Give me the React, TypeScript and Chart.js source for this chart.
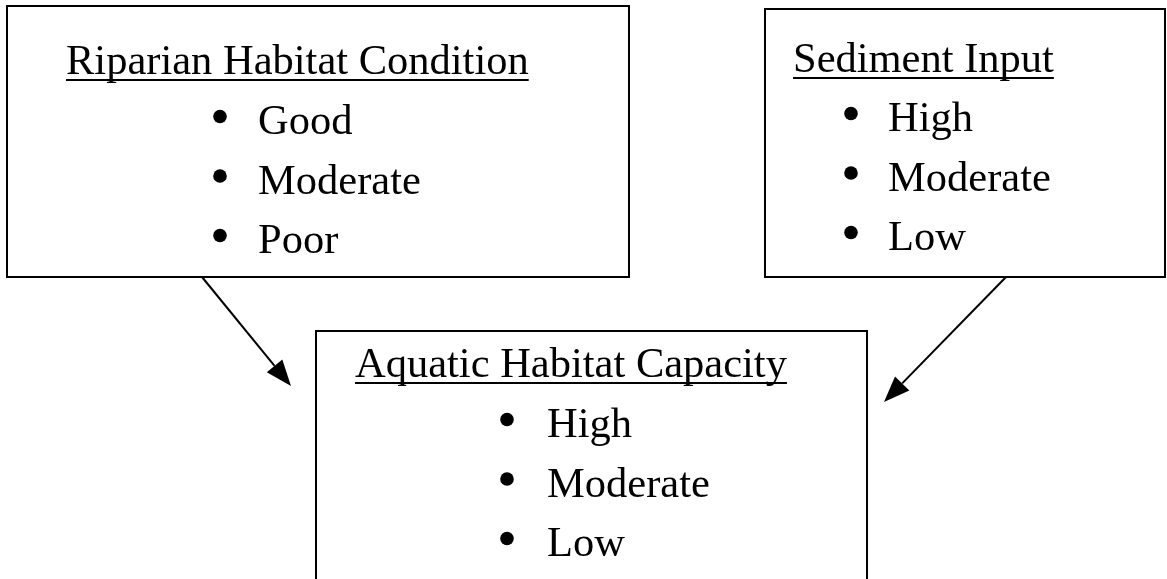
import React, { useEffect, useRef } from "react";
import { Chart, registerables } from "chart.js";

Chart.register(...registerables);

const W = 1167;
const H = 579;

// Text content
const boxTitles = ["Riparian Habitat Condition", "Sediment Input", "Aquatic Habitat Capacity"];
const riparianItems = ["Good", "Moderate", "Poor"];
const sedimentItems = ["High", "Moderate", "Low"];
const aquaticItems = ["High", "Moderate", "Low"];
const boxItems = [riparianItems, sedimentItems, aquaticItems];

// Layout (in scale units = pixels)
const boxLeft = [7, 765, 316];
const boxTop = [6, 9, 331];
const boxRight = [629, 1165, 867];
const boxBottom = [277, 277, 620];
const titleX = [66, 793, 355];
const titleBaseline = [74, 72, 377];
const bulletX = [220, 851, 507];
const itemX = [258, 888, 547];
const itemBaseline0 = [134, 131, 437];
const itemStep = 59.5;

// Arrows
const arrowFrom = [[202, 277], [1006, 277]];
const arrowTo = [[291, 386], [884, 402]];

const FONT = "42.5px 'Liberation Serif', 'Times New Roman', serif";

const diagramPlugin = {
  id: "diagram",
  afterDraw(chart: any) {
    const ctx = chart.ctx as CanvasRenderingContext2D;
    const xs = chart.scales.x;
    const ys = chart.scales.y;
    const px = (v: number) => xs.getPixelForValue(v);
    const py = (v: number) => ys.getPixelForValue(v);
    ctx.save();
    ctx.fillStyle = "#ffffff";
    ctx.fillRect(0, 0, chart.width, chart.height);

    ctx.strokeStyle = "#000";
    ctx.lineWidth = 2;
    for (let i = 0; i < boxTitles.length; i++) {
      const l = px(boxLeft[i]);
      const t = py(boxTop[i]);
      const r = px(boxRight[i]);
      const b = py(boxBottom[i]);
      ctx.strokeRect(l, t, r - l, b - t);

      ctx.font = FONT;
      ctx.fillStyle = "#000";
      ctx.textBaseline = "alphabetic";
      ctx.textAlign = "left";
      const tx = px(titleX[i]);
      const ty = py(titleBaseline[i]);
      ctx.fillText(boxTitles[i], tx, ty);
      const w = ctx.measureText(boxTitles[i]).width;
      ctx.fillRect(tx, ty + 5, w, 2);

      const items = boxItems[i];
      for (let j = 0; j < items.length; j++) {
        const by = py(itemBaseline0[i] + j * itemStep);
        ctx.beginPath();
        ctx.arc(px(bulletX[i]), by - 17.5, 6.8, 0, Math.PI * 2);
        ctx.fill();
        ctx.fillText(items[j], px(itemX[i]), by);
      }
    }

    for (let k = 0; k < arrowFrom.length; k++) {
      const x0 = px(arrowFrom[k][0]);
      const y0 = py(arrowFrom[k][1]);
      const x1 = px(arrowTo[k][0]);
      const y1 = py(arrowTo[k][1]);
      const ang = Math.atan2(y1 - y0, x1 - x0);
      const headLen = 26;
      const headW = 10;
      const bx = x1 - headLen * Math.cos(ang);
      const byy = y1 - headLen * Math.sin(ang);
      ctx.beginPath();
      ctx.moveTo(x0, y0);
      ctx.lineTo(bx, byy);
      ctx.lineWidth = 2;
      ctx.stroke();
      ctx.beginPath();
      ctx.moveTo(x1, y1);
      ctx.lineTo(bx + headW * Math.sin(ang), byy - headW * Math.cos(ang));
      ctx.lineTo(bx - headW * Math.sin(ang), byy + headW * Math.cos(ang));
      ctx.closePath();
      ctx.fill();
    }
    ctx.restore();
  },
};

export default function App() {
  const ref = useRef<HTMLCanvasElement | null>(null);
  useEffect(() => {
    if (!ref.current) return;
    const chart = new Chart(ref.current, {
      type: "scatter",
      data: { datasets: [{ data: [], pointRadius: 0 }] },
      options: {
        animation: false,
        responsive: false,
        maintainAspectRatio: false,
        layout: { padding: 0 },
        plugins: { legend: { display: false }, tooltip: { enabled: false } },
        scales: {
          x: { type: "linear", min: 0, max: W, display: false },
          y: { type: "linear", min: 0, max: H, reverse: true, display: false },
        },
      },
      plugins: [diagramPlugin],
    });
    return () => chart.destroy();
  }, []);
  return (
    <div style={{ position: "fixed", left: 0, top: 0, width: W, height: H, background: "#fff" }}>
      <canvas ref={ref} width={W} height={H} style={{ width: W, height: H, display: "block" }} />
    </div>
  );
}
